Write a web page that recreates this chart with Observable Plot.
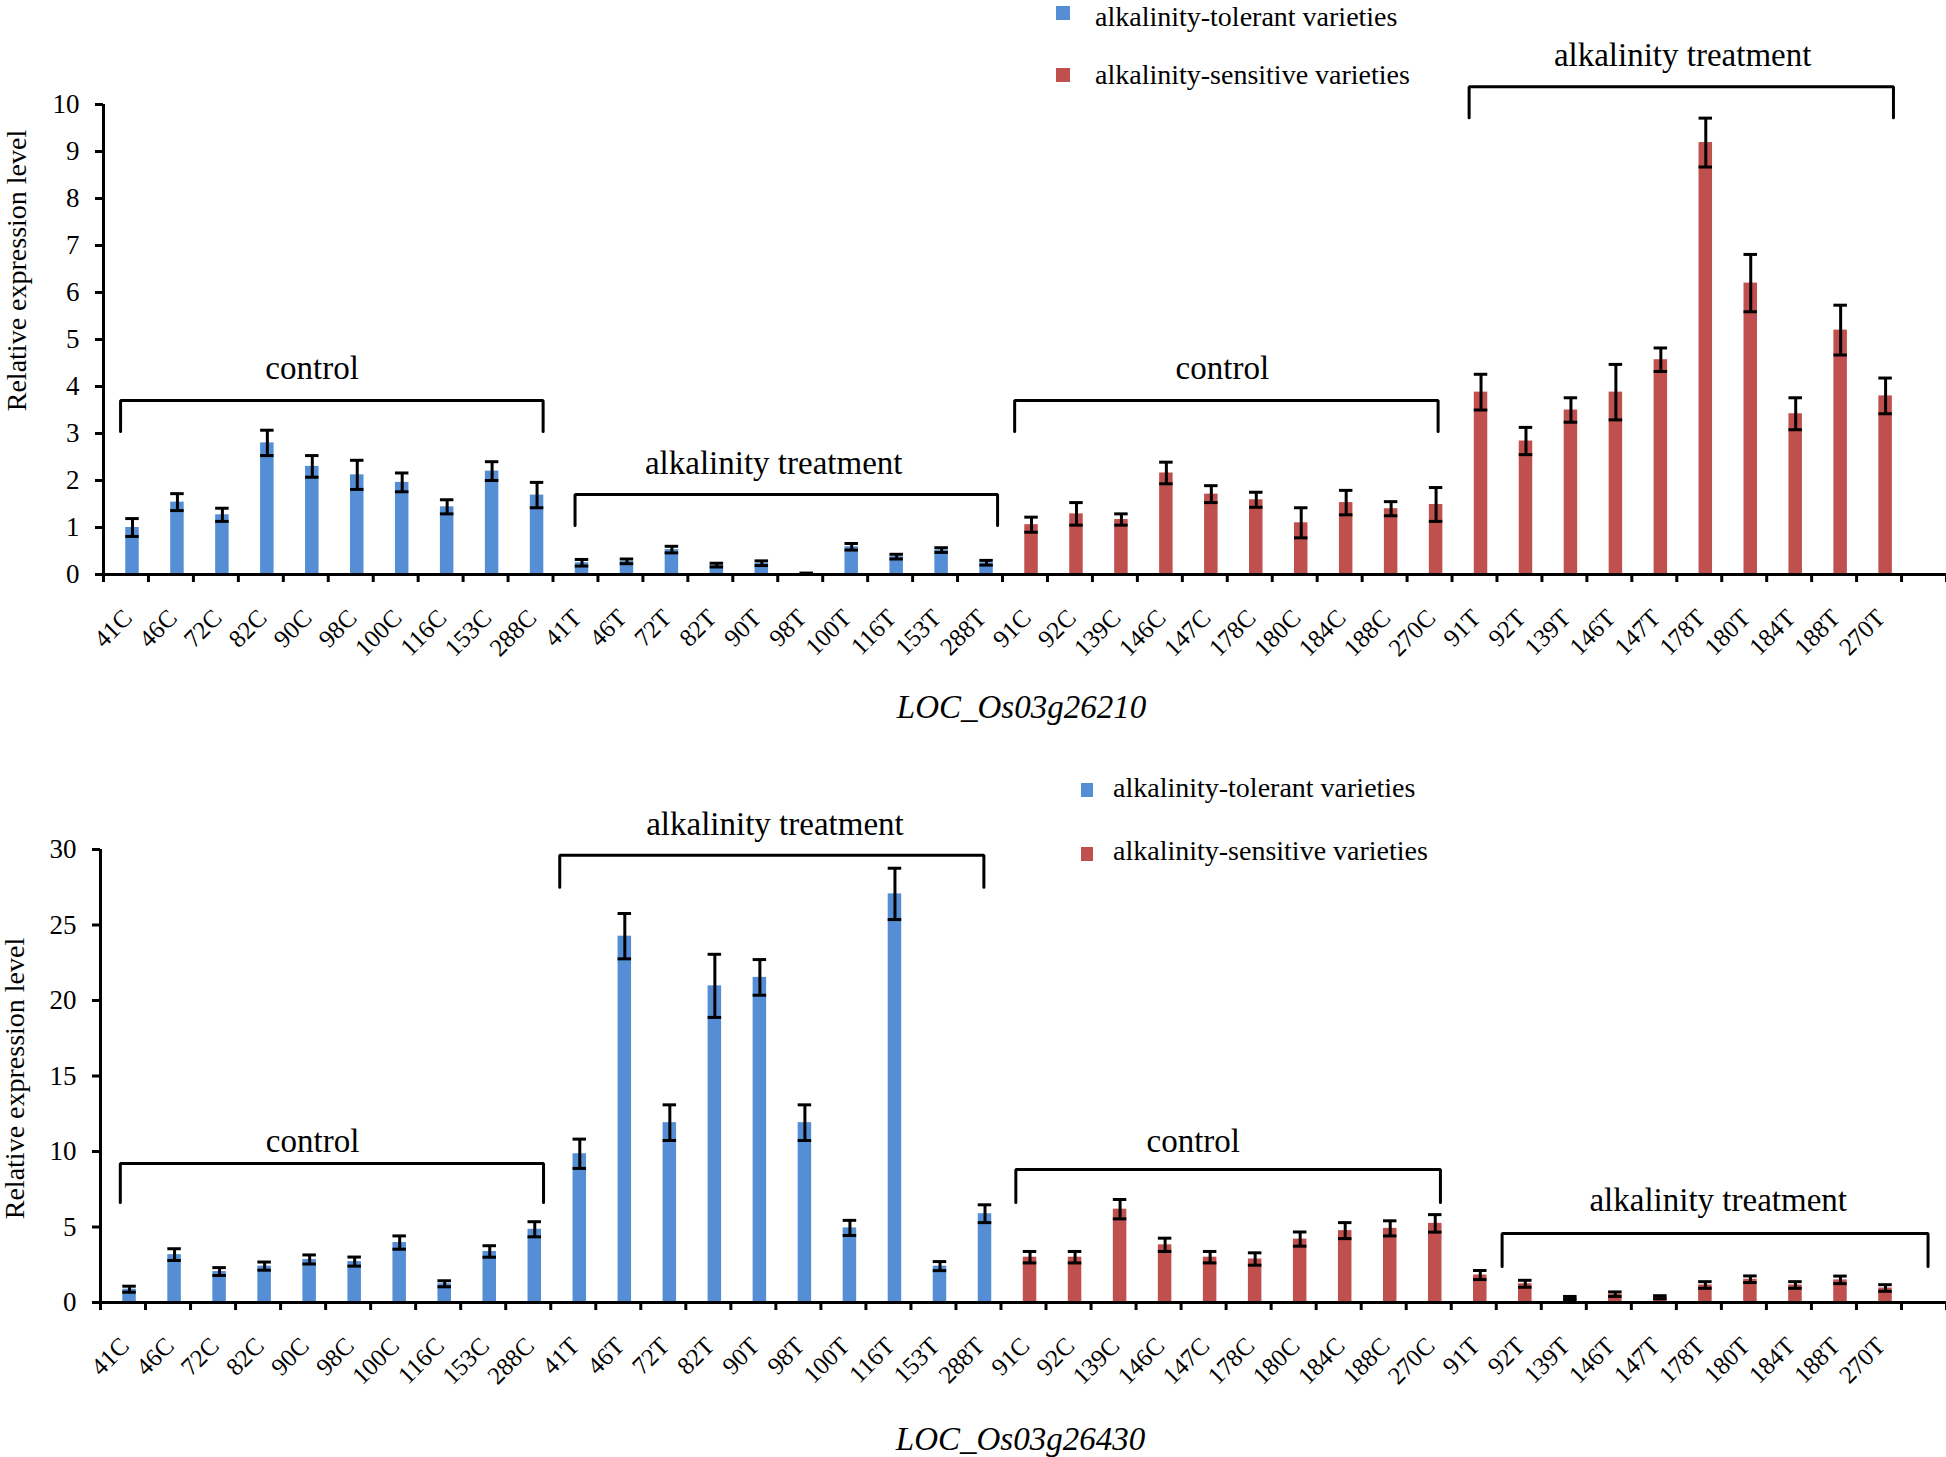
<!DOCTYPE html>
<html><head><meta charset="utf-8">
<script src="https://cdn.jsdelivr.net/npm/d3@7"></script>
<script src="https://cdn.jsdelivr.net/npm/@observablehq/plot@0.6"></script>
<style>
body{margin:0;background:#fff;}
#wrap{position:relative;width:1946px;height:1457px;overflow:hidden;background:#fff;font-family:"Liberation Serif","Times New Roman",serif;color:#000;}
.chart{position:absolute;left:0;}
.leg{position:absolute;font-size:28px;line-height:20px;white-space:nowrap;}
.sw{position:absolute;}
</style></head><body><div id="wrap"></div>
<script>
// ---------- data ----------
const categories = ["41C","46C","72C","82C","90C","98C","100C","116C","153C","288C",
  "41T","46T","72T","82T","90T","98T","100T","116T","153T","288T",
  "91C","92C","139C","146C","147C","178C","180C","184C","188C","270C",
  "91T","92T","139T","146T","147T","178T","180T","184T","188T","270T"];
const seriesLabels = ["alkalinity-tolerant varieties", "alkalinity-sensitive varieties"];
const seriesColors = ["#558ED5", "#C0504D"];

// LOC_Os03g26210
const gene1Values = [1.00,1.54,1.27,2.80,2.30,2.12,1.96,1.44,2.20,1.69,
  0.25,0.28,0.53,0.20,0.24,0.02,0.59,0.38,0.52,0.25,
  1.06,1.29,1.17,2.16,1.71,1.59,1.10,1.53,1.40,1.49,
  3.88,2.84,3.50,3.88,4.57,9.19,6.20,3.42,5.20,3.80];
const gene1Errors = [0.19,0.18,0.14,0.27,0.23,0.31,0.20,0.15,0.20,0.27,
  0.07,0.05,0.07,0.04,0.05,0.01,0.07,0.05,0.05,0.05,
  0.16,0.24,0.12,0.23,0.18,0.16,0.32,0.26,0.15,0.36,
  0.38,0.29,0.26,0.59,0.25,0.52,0.61,0.34,0.53,0.38];

// LOC_Os03g26430
const gene2Values = [0.88,3.17,2.05,2.41,2.85,2.71,3.97,1.24,3.38,4.85,
  9.85,24.26,11.91,20.97,21.53,11.91,4.94,27.06,2.41,5.88,
  3.00,3.00,6.18,3.82,3.00,2.88,4.20,4.76,4.91,5.24,
  1.82,1.24,0.30,0.55,0.35,1.16,1.54,1.16,1.50,0.96];
const gene2Errors = [0.20,0.39,0.26,0.27,0.30,0.30,0.44,0.20,0.38,0.50,
  0.97,1.50,1.18,2.09,1.18,1.18,0.50,1.70,0.30,0.59,
  0.38,0.38,0.64,0.44,0.38,0.41,0.47,0.53,0.50,0.58,
  0.30,0.23,0.10,0.15,0.10,0.22,0.22,0.22,0.25,0.22];

const gene1Ticks = [0,1,2,3,4,5,6,7,8,9,10];
const gene2Ticks = [0,5,10,15,20,25,30];

// group annotations (bracket ends in category units, heights in data units)
const gene1Groups = [
  {label:"control", x1:-0.12, x2:9.28, top:3.70, end:3.04, lx:4.14, ly:4.15},
  {label:"alkalinity treatment", x1:9.99, x2:19.39, top:1.70, end:1.04, lx:14.41, ly:2.13},
  {label:"control", x1:19.77, x2:29.19, top:3.70, end:3.04, lx:24.39, ly:4.15},
  {label:"alkalinity treatment", x1:29.88, x2:39.32, top:10.38, end:9.72, lx:34.63, ly:10.81}
];
const gene2Groups = [
  {label:"control", x1:-0.06, x2:9.34, top:9.21, end:6.63, lx:4.21, ly:9.94},
  {label:"alkalinity treatment", x1:9.70, x2:19.12, top:29.62, end:27.5, lx:14.48, ly:30.95},
  {label:"control", x1:19.83, x2:29.26, top:8.80, end:6.63, lx:23.77, ly:9.94},
  {label:"alkalinity treatment", x1:30.63, x2:40.09, top:4.57, end:2.39, lx:35.43, ly:6.03}
];

// ---------- drawing ----------
const OFF = 0.145, HW = 0.15;
function makeChart(o) {
  const rows = categories.map((c, i) => ({cat: c, i, v: o.values[i], e: o.errors[i], s: seriesLabels[i < 20 ? 0 : 1]}));
  const bounds = d3.range(0, 42).map(k => k - 0.5);
  const bracketPts = o.groups.flatMap((g, j) => [
    {id: j, x: g.x1, y: g.end}, {id: j, x: g.x1, y: g.top},
    {id: j, x: g.x2, y: g.top}, {id: j, x: g.x2, y: g.end}]);
  return Plot.plot({
    width: 1946, height: o.height,
    marginTop: o.marginTop, marginBottom: o.marginBottom, marginLeft: o.marginLeft, marginRight: 0,
    style: {fontFamily: "'Liberation Serif', 'Times New Roman', serif", fontSize: "27px", color: "#000", background: "#fff", overflow: "visible"},
    x: {domain: [-0.5, 40.5]},
    y: {domain: [0, o.yMax]},
    color: {domain: seriesLabels, range: seriesColors},
    marks: [
      Plot.rectY(rows, {x1: d => d.i + OFF - HW, x2: d => d.i + OFF + HW, y: "v", fill: "s"}),
      Plot.ruleX(rows, {x: d => d.i + OFF, y1: d => d.v - d.e, y2: d => d.v + d.e, stroke: "#000", strokeWidth: 3}),
      Plot.ruleY(rows, {y: d => d.v + d.e, x1: d => d.i + OFF - HW, x2: d => d.i + OFF + HW, stroke: "#000", strokeWidth: 3}),
      Plot.ruleY(rows, {y: d => Math.max(0, d.v - d.e), x1: d => d.i + OFF - HW, x2: d => d.i + OFF + HW, stroke: "#000", strokeWidth: 3}),
      Plot.axisY({ticks: o.ticks, tickSize: 8, tickPadding: 16, strokeWidth: 3, fontSize: 27, label: null}),
      Plot.axisX({ticks: bounds, tickSize: 8, tickFormat: () => "", strokeWidth: 3, label: null}),
      Plot.ruleX([-0.5], {stroke: "#000", strokeWidth: 3}),
      Plot.ruleY([0], {stroke: "#000", strokeWidth: 3}),
      Plot.text(rows, {x: d => d.i + OFF, y: 0, text: "cat", rotate: -45, textAnchor: "end", lineAnchor: "bottom", dx: 1, dy: 45, fontSize: 25}),
      Plot.line(bracketPts, {x: "x", y: "y", z: "id", stroke: "#000", strokeWidth: 3, strokeLinejoin: "miter", curve: "linear"}),
      Plot.text(o.groups, {x: "lx", y: "ly", text: "label", lineAnchor: "bottom", fontSize: 33}),
      Plot.text([o.gene], {frameAnchor: "bottom", dx: o.geneDx, dy: o.geneDy, lineAnchor: "bottom", fontStyle: "italic", fontSize: 33}),
      Plot.text(["Relative expression level"], {frameAnchor: "top-left", rotate: -90, textAnchor: "middle", lineAnchor: "bottom", dx: o.ylDx, dy: o.ylDy, fontSize: 28})
    ]
  });
}

const wrap = document.getElementById("wrap");
const c1 = makeChart({values: gene1Values, errors: gene1Errors, yMax: 10, ticks: gene1Ticks, groups: gene1Groups,
  height: 730, marginTop: 104, marginBottom: 156, marginLeft: 103,
  gene: "LOC_Os03g26210", geneDx: -3.5, geneDy: 143, ylDx: -78, ylDy: 166});
c1.classList.add("chart"); c1.style.top = "0px";
wrap.appendChild(c1);
const c2 = makeChart({values: gene2Values, errors: gene2Errors, yMax: 30, ticks: gene2Ticks, groups: gene2Groups,
  height: 727, marginTop: 119, marginBottom: 155, marginLeft: 100,
  gene: "LOC_Os03g26430", geneDx: -3, geneDy: 147, ylDx: -77, ylDy: 229});
c2.classList.add("chart"); c2.style.top = "730px";
wrap.appendChild(c2);

// legends
function legend(items) {
  items.forEach(it => {
    const sw = document.createElement("div");
    sw.className = "sw";
    Object.assign(sw.style, {left: it.sx + "px", top: it.sy + "px", width: it.sw + "px", height: it.sh + "px", background: it.color});
    wrap.appendChild(sw);
    const t = document.createElement("div");
    t.className = "leg";
    t.textContent = it.label;
    Object.assign(t.style, {left: it.tx + "px", top: (it.base - 19.45) + "px"});
    wrap.appendChild(t);
  });
}
legend([
  {label: seriesLabels[0], color: seriesColors[0], sx: 1056, sy: 6, sw: 14, sh: 14, tx: 1095, base: 26},
  {label: seriesLabels[1], color: seriesColors[1], sx: 1056, sy: 68, sw: 14, sh: 14, tx: 1095, base: 84},
  {label: seriesLabels[0], color: seriesColors[0], sx: 1081, sy: 783, sw: 12, sh: 14, tx: 1113, base: 797},
  {label: seriesLabels[1], color: seriesColors[1], sx: 1081, sy: 847, sw: 12, sh: 14, tx: 1113, base: 860}
]);
</script>
</body></html>
